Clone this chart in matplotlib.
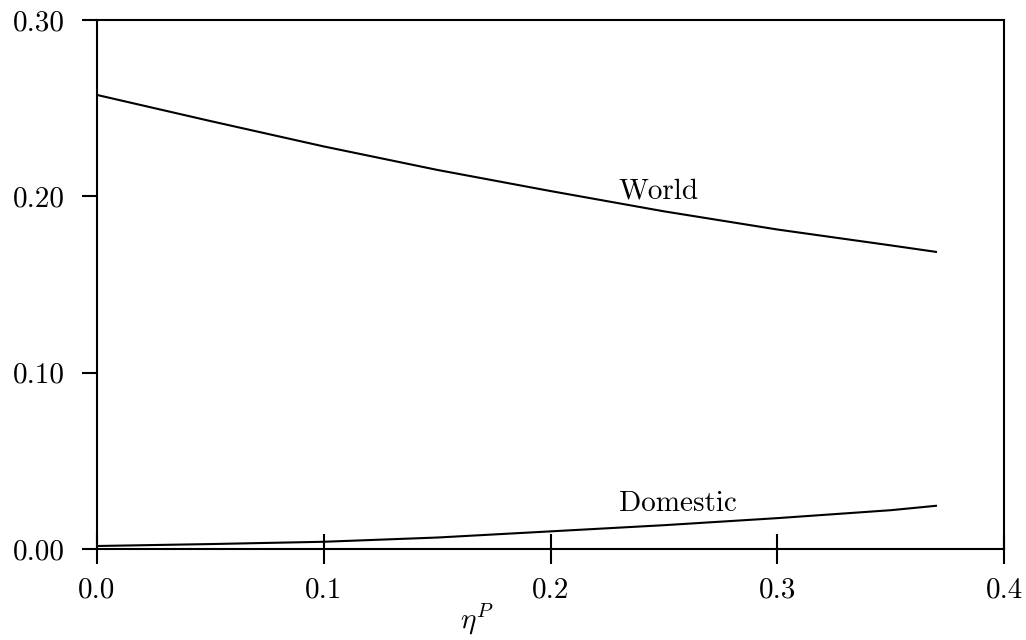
import matplotlib
matplotlib.use("Agg")
import matplotlib.pyplot as plt

eta = [0.0, 0.05, 0.10, 0.15, 0.20, 0.25, 0.30, 0.35, 0.37]
world = [0.2575, 0.2427, 0.2283, 0.2150, 0.2030, 0.1915, 0.1812, 0.1722, 0.1685]
domestic = [0.0017, 0.0028, 0.0041, 0.0065, 0.0100, 0.0135, 0.0175, 0.0220, 0.0245]
xticks = [0.0, 0.1, 0.2, 0.3, 0.4]
xticklabels = ["0.0", "0.1", "0.2", "0.3", "0.4"]
yticks = [0.0, 0.1, 0.2, 0.3]
yticklabels = ["0.00", "0.10", "0.20", "0.30"]

plt.rcParams["font.family"] = "serif"
plt.rcParams["font.serif"] = ["cmr10"]
plt.rcParams["mathtext.fontset"] = "cm"
plt.rcParams["axes.unicode_minus"] = False

fig = plt.figure(figsize=(10.26, 6.4), dpi=100)
ax = fig.add_axes([97/1026, 1-549/640, (1004-97)/1026, (549-20)/640])

ax.plot(eta, world, color="black", lw=1.5)
ax.plot(eta, domestic, color="black", lw=1.5)
ax.text(0.23, 0.199, "World", fontsize=21)
ax.text(0.23, 0.0215, "Domestic", fontsize=21)

ax.set_xlim(0, 0.4)
ax.set_ylim(0, 0.3)
ax.set_xticks(xticks)
ax.set_xticklabels(xticklabels, fontsize=21)
ax.set_yticks(yticks)
ax.set_yticklabels(yticklabels, fontsize=21)
ax.tick_params(axis="x", direction="inout", length=21, width=1.5, pad=10)
ax.tick_params(axis="y", direction="out", length=11, width=1.5, pad=12)
for s in ax.spines.values():
    s.set_linewidth(1.5)

ax.set_xlabel(r"$\eta^P$", fontsize=21)
ax.xaxis.set_label_coords((477-97)/907, -0.098)

fig.savefig("out.png", dpi=100)
